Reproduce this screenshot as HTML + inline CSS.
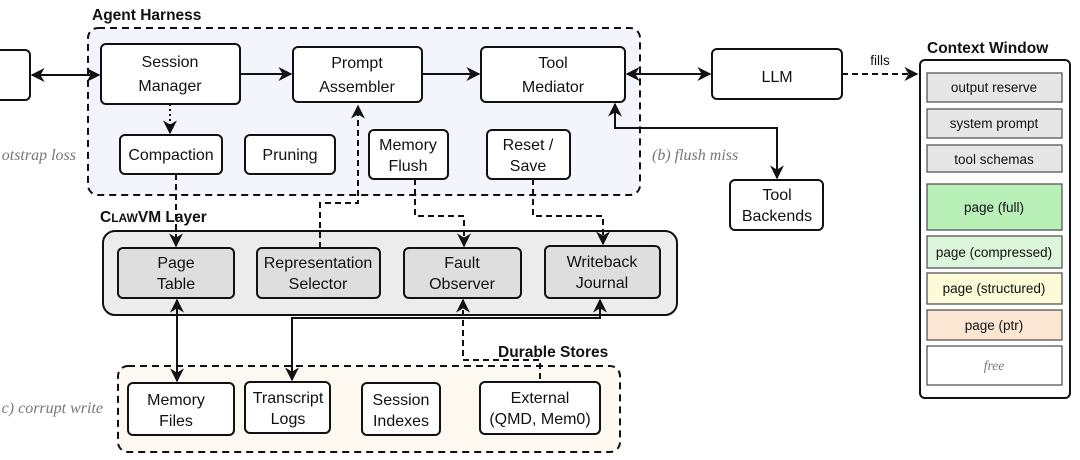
<!DOCTYPE html>
<html><head><meta charset="utf-8"><style>
html,body{margin:0;padding:0;background:#fff;width:1080px;height:460px;overflow:hidden}
svg{display:block}
text{font-family:"Liberation Sans",sans-serif;fill:#111;font-size:16px;text-anchor:middle}
.b{font-weight:bold;text-anchor:start;font-size:15.5px}
.g{fill:#777;font-style:italic;font-family:"Liberation Serif",serif;font-size:16px}
.s{font-size:13.5px}
.bx{fill:#fff;stroke:#111;stroke-width:2}
.gb{fill:#dedede;stroke:#111;stroke-width:2}
.ln{fill:none;stroke:#111;stroke-width:2}
.dl{fill:none;stroke:#111;stroke-width:2;stroke-dasharray:6 4}
</style></head><body>
<svg width="1080" height="460" viewBox="0 0 1080 460">
<defs>
<marker id="a" viewBox="0 0 10 10" refX="9" refY="5" markerWidth="7" markerHeight="7" orient="auto-start-reverse"><path d="M0,0 L10,5 L0,10 L3,5 z" fill="#111"/></marker>
</defs>
<rect x="88" y="28" width="552" height="167" rx="10" fill="#f3f4fc" stroke="#111" stroke-width="2" stroke-dasharray="7 5"/>
<text class="b" x="92" y="20">Agent Harness</text>
<rect x="103" y="231" width="574" height="84" rx="12" fill="#ececec" stroke="#111" stroke-width="2"/>
<text class="b" x="100" y="222">C<tspan font-size="12">LAW</tspan>VM Layer</text>
<rect x="118" y="366" width="502" height="86" rx="10" fill="#fdf8f0" stroke="#111" stroke-width="2" stroke-dasharray="7 5"/>
<text class="b" x="498" y="357">Durable Stores</text>

<rect class="bx" x="-10" y="50" width="40" height="50" rx="5"/>
<rect class="bx" x="101" y="44" width="139" height="60" rx="5"/>
<text x="170" y="67">Session</text><text x="170" y="91">Manager</text>
<rect class="bx" x="293" y="47" width="129" height="55" rx="5"/>
<text x="357" y="68">Prompt</text><text x="357" y="92">Assembler</text>
<rect class="bx" x="481" y="47" width="144" height="55" rx="5"/>
<text x="553" y="68">Tool</text><text x="553" y="92">Mediator</text>
<rect class="bx" x="712" y="49" width="130" height="50" rx="5"/>
<text x="777" y="82" font-size="19">LLM</text>

<rect class="bx" x="120" y="135" width="102" height="39" rx="5"/><text x="171" y="160">Compaction</text>
<rect class="bx" x="245" y="135" width="90" height="39" rx="5"/><text x="290" y="160">Pruning</text>
<rect class="bx" x="369" y="130" width="79" height="49" rx="5"/><text x="408" y="150">Memory</text><text x="408" y="171">Flush</text>
<rect class="bx" x="487" y="130" width="83" height="49" rx="5"/><text x="528" y="150">Reset /</text><text x="528" y="171">Save</text>

<rect class="gb" x="118" y="248" width="116" height="50" rx="5"/><text x="176" y="268">Page</text><text x="176" y="289">Table</text>
<rect class="gb" x="257" y="248" width="123" height="50" rx="5"/><text x="318" y="268">Representation</text><text x="318" y="289">Selector</text>
<rect class="gb" x="404" y="248" width="117" height="50" rx="5"/><text x="462" y="268">Fault</text><text x="462" y="289">Observer</text>
<rect class="gb" x="545" y="246" width="115" height="52" rx="5"/><text x="602" y="267">Writeback</text><text x="602" y="288">Journal</text>

<rect class="bx" x="128" y="383" width="106" height="52" rx="5"/><text x="176" y="405">Memory</text><text x="176" y="426">Files</text>
<rect class="bx" x="245" y="382" width="85" height="51" rx="5"/><text x="288" y="403">Transcript</text><text x="288" y="424">Logs</text>
<rect class="bx" x="362" y="383" width="78" height="52" rx="5"/><text x="401" y="405">Session</text><text x="401" y="426">Indexes</text>
<rect class="bx" x="480" y="382" width="120" height="52" rx="5"/><text x="540" y="403">External</text><text x="540" y="424">(QMD, Mem0)</text>

<rect class="bx" x="730" y="180" width="93" height="50" rx="5"/><text x="777" y="200">Tool</text><text x="777" y="221">Backends</text>

<text class="b" x="927" y="53">Context Window</text>
<rect class="bx" x="920" y="60" width="150" height="338" rx="5"/>
<rect x="927" y="73" width="135" height="29" fill="#e6e6e6" stroke="#555" stroke-width="1.3"/><text class="s" x="994" y="92">output reserve</text>
<rect x="927" y="109" width="135" height="29" fill="#e6e6e6" stroke="#555" stroke-width="1.3"/><text class="s" x="994" y="128">system prompt</text>
<rect x="927" y="145" width="135" height="27" fill="#e6e6e6" stroke="#555" stroke-width="1.3"/><text class="s" x="994" y="164">tool schemas</text>
<rect x="927" y="184" width="135" height="46" fill="#b8f0b8" stroke="#555" stroke-width="1.3"/><text class="s" x="994" y="212">page (full)</text>
<rect x="927" y="236" width="135" height="32" fill="#dcf6dc" stroke="#555" stroke-width="1.3"/><text class="s" x="994" y="257">page (compressed)</text>
<rect x="927" y="273" width="135" height="31" fill="#fdfad8" stroke="#555" stroke-width="1.3"/><text class="s" x="994" y="293">page (structured)</text>
<rect x="927" y="310" width="135" height="30" fill="#fbe6d4" stroke="#555" stroke-width="1.3"/><text class="s" x="994" y="330">page (ptr)</text>
<rect x="927" y="346" width="135" height="39" fill="#fff" stroke="#555" stroke-width="1.3"/><text class="g s" x="994" y="370">free</text>

<line class="ln" x1="32" y1="75" x2="99" y2="75" marker-start="url(#a)" marker-end="url(#a)"/>
<line class="ln" x1="240" y1="74" x2="291" y2="74" marker-end="url(#a)"/>
<line class="ln" x1="422" y1="74" x2="479" y2="74" marker-end="url(#a)"/>
<line class="ln" x1="627" y1="74" x2="710" y2="74" marker-start="url(#a)" marker-end="url(#a)"/>
<line class="dl" x1="842" y1="74" x2="917" y2="74" marker-end="url(#a)"/>
<text x="880" y="65" class="s">fills</text>
<line class="ln" x1="170" y1="104" x2="170" y2="133" stroke-dasharray="2 3" marker-end="url(#a)"/>
<polyline class="dl" points="176,174 176,246" marker-end="url(#a)"/>
<polyline class="dl" points="320,248 320,203 358,203 358,106" marker-end="url(#a)"/>
<polyline class="dl" points="415,179 415,216 464,216 464,246" marker-end="url(#a)"/>
<polyline class="dl" points="533,179 533,216 603,216 603,244" marker-end="url(#a)"/>
<polyline class="ln" points="615,104 615,128 777,128 777,178" marker-start="url(#a)" marker-end="url(#a)"/>
<line class="ln" x1="177" y1="300" x2="177" y2="381" marker-start="url(#a)" marker-end="url(#a)"/>
<polyline class="ln" points="600,300 600,318 292,318 292,380" marker-start="url(#a)" marker-end="url(#a)"/>
<polyline class="dl" points="463,300 463,360 540,360 540,382" marker-start="url(#a)"/>

<text class="g" x="76" y="160" style="text-anchor:end">otstrap loss</text>
<text class="g" x="652" y="160" style="text-anchor:start">(b) flush miss</text>
<text class="g" x="103" y="413" style="text-anchor:end">c) corrupt write</text>
</svg>
</body></html>
